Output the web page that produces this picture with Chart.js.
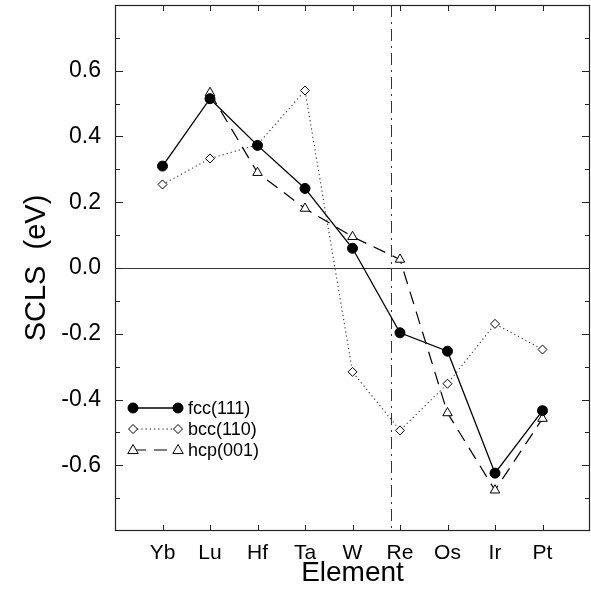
<!DOCTYPE html>
<html><head><meta charset="utf-8">
<script src="https://cdn.jsdelivr.net/npm/chart.js@4/dist/chart.umd.min.js"></script>
<style>html,body{margin:0;padding:0;background:#fff}#wrap{width:591px;height:595px;position:relative}canvas{display:block}</style>
</head><body><div id="wrap"><canvas id="c" width="591" height="595" style="width:591px;height:595px"></canvas></div>
<script>
const elements = ['Yb','Lu','Hf','Ta','W','Re','Os','Ir','Pt'];
const fcc111 = [0.310, 0.515, 0.373, 0.242, 0.060, -0.197, -0.253, -0.624, -0.434];
const bcc110 = [0.254, 0.333, 0.375, 0.540, -0.316, -0.494, -0.352, -0.170, -0.248];
const hcp001 = [null, 0.533, 0.290, 0.181, 0.095, 0.026, -0.441, -0.676, -0.458];
const yTickValues = [-0.8,-0.6,-0.4,-0.2,0.0,0.2,0.4,0.6,0.8];
const dividerX = 5.8; // dash-dot separator between W and Re

const FONT = "'Liberation Sans', Arial, Helvetica, sans-serif";
const toPts = arr => arr.map((v,i)=>({x:i+1,y:v})).filter(p=>p.y!==null);

function drawMarker(ctx, style, x, y, r, fill){
  ctx.save();
  ctx.setLineDash([]);
  ctx.lineWidth = 1;
  ctx.strokeStyle = '#000';
  ctx.fillStyle = fill;
  ctx.beginPath();
  if(style==='circle'){ ctx.arc(x,y,r,0,Math.PI*2); }
  else if(style==='rectRot'){ ctx.moveTo(x,y-r); ctx.lineTo(x+r,y); ctx.lineTo(x,y+r); ctx.lineTo(x-r,y); ctx.closePath(); }
  else if(style==='triangle'){ ctx.moveTo(x,y-r); ctx.lineTo(x+r*0.95,y+r*0.65); ctx.lineTo(x-r*0.95,y+r*0.65); ctx.closePath(); }
  ctx.fill(); ctx.stroke();
  ctx.restore();
}

const decor = {
  id:'decor',
  beforeDatasetsDraw(chart){
    const {ctx, chartArea:a, scales:{x,y}} = chart;
    ctx.save();
    ctx.strokeStyle='#333'; ctx.lineWidth=1.2;
    const y0 = Math.round(y.getPixelForValue(0))+0.5;
    ctx.beginPath(); ctx.moveTo(a.left,y0); ctx.lineTo(a.right,y0); ctx.stroke();
    const xv = Math.round(x.getPixelForValue(dividerX))+0.5;
    ctx.setLineDash([12,5,2,5]);
    ctx.lineWidth=1;
    ctx.beginPath(); ctx.moveTo(xv,a.top); ctx.lineTo(xv,a.bottom); ctx.stroke();
    ctx.restore();
  },
  afterDraw(chart){
    const {ctx, chartArea:a, scales:{x,y}} = chart;
    ctx.save();
    ctx.strokeStyle='#222'; ctx.lineWidth=1.2;
    ctx.strokeRect(a.left+0.5,a.top+0.5,a.right-a.left-1,a.bottom-a.top-1);
    ctx.lineWidth=1;
    ctx.beginPath();
    for(let i=1;i<=9;i++){
      const px=Math.round(x.getPixelForValue(i))+0.5;
      ctx.moveTo(px,a.bottom); ctx.lineTo(px,a.bottom-6);
      ctx.moveTo(px,a.top); ctx.lineTo(px,a.top+6);
    }
    for(let k=-7;k<=7;k++){
      const py=Math.round(y.getPixelForValue(k/10))+0.5;
      const len = (k%2===0)?8:5;
      ctx.moveTo(a.left,py); ctx.lineTo(a.left+len,py);
      ctx.moveTo(a.right,py); ctx.lineTo(a.right-len,py);
    }
    ctx.stroke();
    // legend
    const rows=[408,429,450];
    const x1=133, x2=178;
    chart.data.datasets.forEach((ds,i)=>{
      const ry=rows[i];
      ctx.save();
      ctx.strokeStyle='#000'; ctx.lineWidth=ds.borderWidth;
      ctx.setLineDash(ds.borderDash||[]);
      ctx.beginPath(); ctx.moveTo(x1,ry); ctx.lineTo(x2,ry); ctx.stroke();
      ctx.restore();
      drawMarker(ctx, ds.pointStyle, x1, ry, ds.pointRadius, ds.pointBackgroundColor);
      drawMarker(ctx, ds.pointStyle, x2, ry, ds.pointRadius, ds.pointBackgroundColor);
      ctx.fillStyle='#000';
      ctx.font = "18px "+FONT;
      ctx.textBaseline='middle'; ctx.textAlign='left';
      ctx.fillText(ds.label, 188, ry+1);
    });
    ctx.restore();
  }
};

new Chart(document.getElementById('c'), {
  type:'line',
  data:{
    datasets:[
      {label:'fcc(111)', data:toPts(fcc111), borderColor:'#000', borderWidth:1.3, borderDash:[],
       pointStyle:'circle', pointRadius:5, pointBackgroundColor:'#000', pointBorderColor:'#000', pointBorderWidth:1, order:0},
      {label:'bcc(110)', data:toPts(bcc110), borderColor:'#333', borderWidth:1.1, borderDash:[1.2,3],
       pointStyle:'rectRot', pointRadius:4.5, pointBackgroundColor:'#fff', pointBorderColor:'#000', pointBorderWidth:1, order:2},
      {label:'hcp(001)', data:toPts(hcp001), borderColor:'#000', borderWidth:1.2, borderDash:[13,8],
       pointStyle:'triangle', pointRadius:5.5, pointBackgroundColor:'#fff', pointBorderColor:'#000', pointBorderWidth:1, order:1}
    ]
  },
  options:{
    responsive:false, animation:false, devicePixelRatio:1,
    layout:{autoPadding:false, padding:{top:5,right:1,left:0,bottom:0}},
    plugins:{legend:{display:false}, tooltip:{enabled:false}},
    scales:{
      x:{type:'linear', min:0, max:10,
        grid:{display:false, drawTicks:false},
        border:{display:false},
        afterBuildTicks(s){ s.ticks = elements.map((e,i)=>({value:i+1})); },
        ticks:{autoSkip:false, maxRotation:0, padding:10, color:'#000',
          font:{family:FONT,size:21},
          callback:(v)=> elements[Math.round(v)-1] || ''},
        title:{display:true, text:'Element', color:'#000', font:{family:FONT,size:28}, padding:{top:4,bottom:5}},
        afterFit(s){ s.height=64; s.paddingLeft=0; s.paddingRight=0; }
      },
      y:{type:'linear', min:-0.8, max:0.8,
        grid:{display:false, drawTicks:false},
        border:{display:false},
        afterBuildTicks(s){ s.ticks = yTickValues.map(v=>({value:v})); },
        ticks:{padding:14, color:'#000', font:{family:FONT,size:23},
          callback:(v)=> (Math.abs(v)>0.79)?'':(Math.abs(v)<1e-9?'0.0':v.toFixed(1))},
        title:{display:true, text:'SCLS  (eV)', color:'#000', font:{family:FONT,size:29}, padding:{top:20,bottom:0}},
        afterFit(s){ s.width=115; s.paddingTop=0; s.paddingBottom=0; }
      }
    }
  },
  plugins:[decor]
});
</script></body></html>
